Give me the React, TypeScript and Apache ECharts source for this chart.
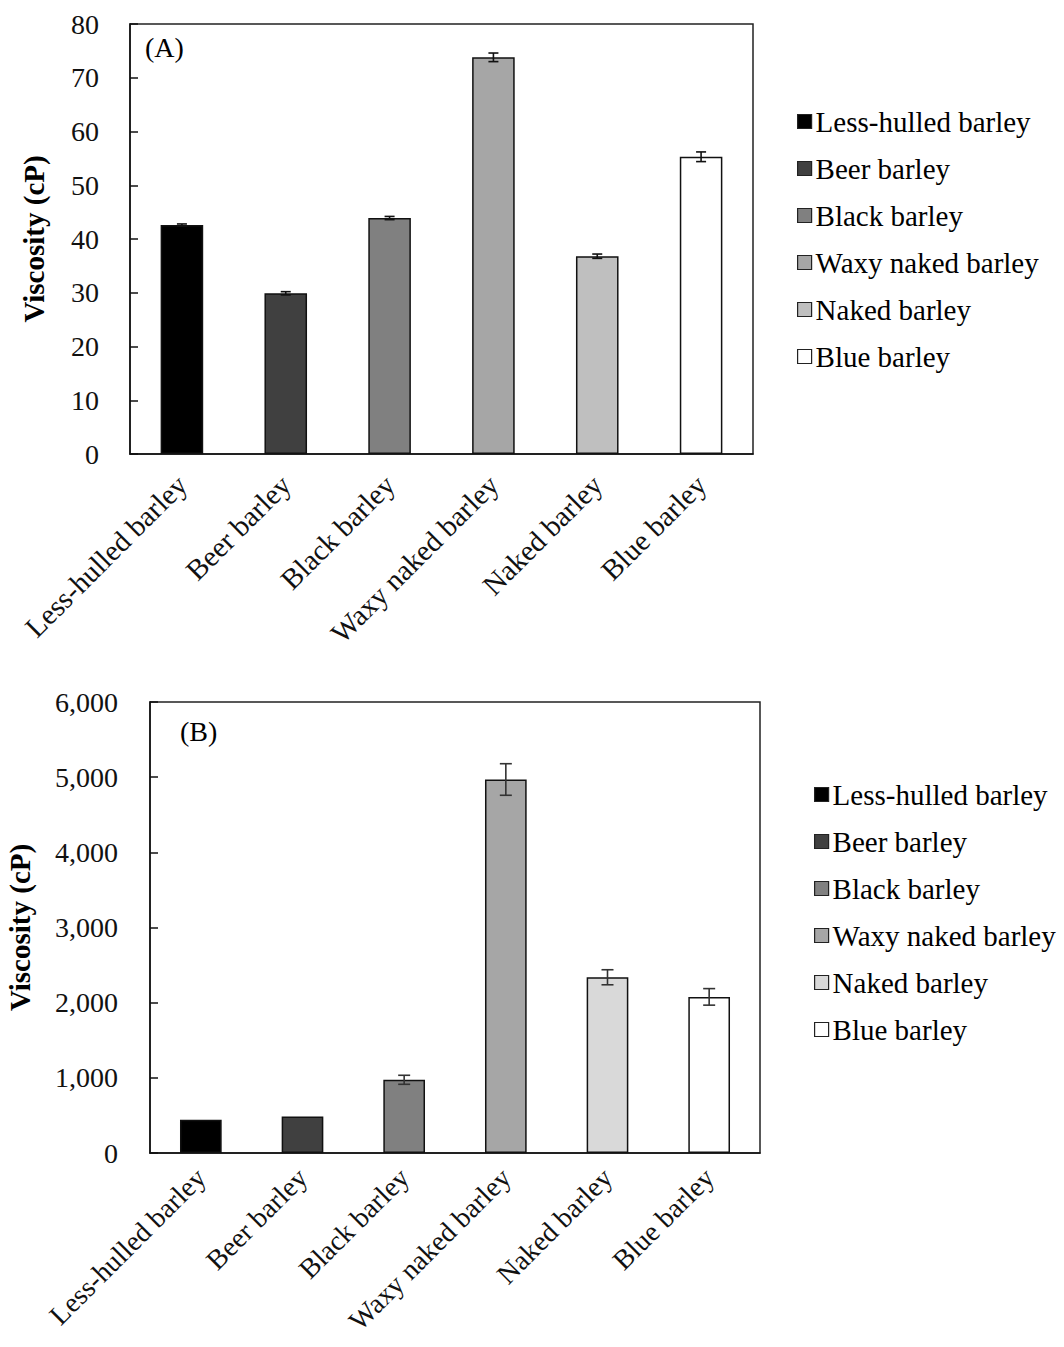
import React, { useEffect, useRef } from "react";
import * as echarts from "echarts";

const categories = [
  "Less-hulled barley",
  "Beer barley",
  "Black barley",
  "Waxy naked barley",
  "Naked barley",
  "Blue barley",
];
const viscosityA = [42.6, 29.9, 43.9, 73.8, 36.8, 55.3];
const errorA = [0.2, 0.3, 0.3, 0.8, 0.4, 0.9];
const viscosityB = [443, 487, 974, 4969, 2338, 2077];
const errorB = [0, 0, 60, 210, 100, 110];
const colorsA = ["#000000", "#404040", "#808080", "#a6a6a6", "#bfbfbf", "#ffffff"];
const colorsB = ["#000000", "#404040", "#808080", "#a6a6a6", "#d9d9d9", "#ffffff"];
const ticksA = { min: 0, max: 80, interval: 10 };
const ticksB = { min: 0, max: 6000, interval: 1000 };

const FONT = "Liberation Serif";

export default function App() {
  const ref = useRef<HTMLDivElement>(null);
  useEffect(() => {
    document.body.style.margin = "0";
    const chart = echarts.init(ref.current!, null, { renderer: "svg" });

    const barSeries = (p: number, vals: number[], colors: string[]) =>
      categories.map((name, i) => ({
        type: "bar",
        name,
        xAxisIndex: p,
        yAxisIndex: p,
        barWidth: "41%",
        barGap: "-100%",
        data: categories.map((_, j) => (j === i ? vals[j] : "-")),
        itemStyle: { color: colors[i], borderColor: "#111", borderWidth: 1.5 },
      }));

    const errSeries = (p: number, vals: number[], errs: number[], stroke: string, hw: number) => ({
      type: "custom",
      xAxisIndex: p,
      yAxisIndex: p,
      silent: true,
      z: 10,
      encode: { x: 0, y: 1 },
      data: vals.map((v, i) => [i, v, errs[i]]),
      renderItem: (params: any, api: any) => {
        const x = api.value(0);
        const v = api.value(1);
        const e = api.value(2);
        if (!e) return null;
        const top = api.coord([x, v + e]);
        const bot = api.coord([x, v - e]);
        const st = { stroke, lineWidth: 1.6 };
        return {
          type: "group",
          children: [
            { type: "line", shape: { x1: top[0], y1: top[1], x2: bot[0], y2: bot[1] }, style: st },
            { type: "line", shape: { x1: top[0] - hw, y1: top[1], x2: top[0] + hw, y2: top[1] }, style: st },
            { type: "line", shape: { x1: bot[0] - hw, y1: bot[1], x2: bot[0] + hw, y2: bot[1] }, style: st },
          ],
        };
      },
    });

    const xAxis = (p: number, margin: number, fontSize: number) => ({
      type: "category",
      gridIndex: p,
      data: categories,
      axisLine: { lineStyle: { color: "#111", width: 1.5 } },
      axisTick: { inside: true, length: 7, lineStyle: { color: "#111", width: 1.5 } },
      axisLabel: {
        rotate: 45,
        margin,
        color: "#111",
        fontFamily: FONT,
        fontSize,
        interval: 0,
      },
      splitLine: { show: false },
    });

    const yAxis = (p: number, t: any, nameGap: number, margin: number, fmt: (v: number) => string) => ({
      type: "value",
      gridIndex: p,
      min: t.min,
      max: t.max,
      interval: t.interval,
      name: "Viscosity (cP)",
      nameLocation: "middle",
      nameGap,
      nameTextStyle: { fontFamily: FONT, fontWeight: "bold", fontSize: 29, color: "#000" },
      axisLine: { show: true, lineStyle: { color: "#111", width: 1.5 } },
      axisTick: { show: true, inside: true, length: 8, lineStyle: { color: "#111", width: 1.5 } },
      axisLabel: { margin, color: "#111", fontFamily: FONT, fontSize: 28, formatter: fmt },
      splitLine: { show: false },
    });

    const legend = (left: number, top: number, colors: string[]) => ({
      orient: "vertical",
      left,
      top,
      itemWidth: 14,
      itemHeight: 14,
      itemGap: 18,
      icon: "rect",
      selectedMode: false,
      textStyle: { fontFamily: FONT, fontSize: 29, lineHeight: 29, color: "#000", padding: [0, 0, 0, -1] },
      data: categories.map((name, i) => ({
        name,
        itemStyle: { color: colors[i], borderColor: "#222", borderWidth: 1.2 },
      })),
    });

    chart.setOption({
      animation: false,
      backgroundColor: "#fff",
      grid: [
        { left: 130, top: 24, width: 623, height: 430, outerBoundsMode: "none", containLabel: false, show: true, borderColor: "#222", borderWidth: 1.5, backgroundColor: "transparent" },
        { left: 150, top: 702, width: 610, height: 451, outerBoundsMode: "none", containLabel: false, show: true, borderColor: "#222", borderWidth: 1.5, backgroundColor: "transparent" },
      ],
      xAxis: [xAxis(0, 26, 29), xAxis(1, 20, 28)],
      yAxis: [
        yAxis(0, ticksA, 82, 31, (v: number) => String(v)),
        yAxis(1, ticksB, 116, 32, (v: number) => v.toLocaleString("en-US")),
      ],
      legend: [legend(792, 102, colorsA), legend(809, 775, colorsB)],
      graphic: [
        { type: "text", left: 145, top: 33, style: { text: "(A)", fontFamily: FONT, fontSize: 28, fill: "#000" } },
        { type: "text", left: 180, top: 717, style: { text: "(B)", fontFamily: FONT, fontSize: 28, fill: "#000" } },
      ],
      series: [
        ...barSeries(0, viscosityA, colorsA),
        errSeries(0, viscosityA, errorA, "#111", 5),
        ...barSeries(1, viscosityB, colorsB),
        errSeries(1, viscosityB, errorB, "#333", 6),
      ],
    });
    return () => chart.dispose();
  }, []);
  return <div ref={ref} style={{ width: 1064, height: 1347 }} />;
}
